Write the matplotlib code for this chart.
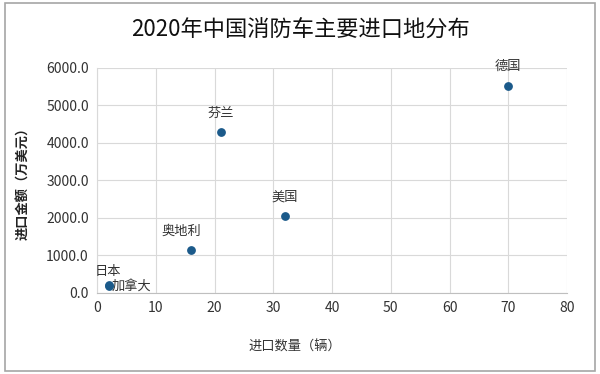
import matplotlib
matplotlib.use("Agg")
import matplotlib.pyplot as plt
from matplotlib.patches import Rectangle

plt.rcParams['font.family'] = ['Noto Sans CJK SC', 'DejaVu Sans']

# Data
countries = ["德国", "芬兰", "美国", "奥地利", "日本", "加拿大"]
quantity = [70, 21, 32, 16, 2, 2]
amount = [5530, 4290, 2050, 1150, 220, 190]

# label offsets in points (dx, dy) and alignment
offsets = {
    "德国": (0, 9, "center"),
    "芬兰": (0, 9, "center"),
    "美国": (0, 9, "center"),
    "奥地利": (-7, 9, "center"),
    "日本": (-1, 5, "center"),
    "加拿大": (2, 0, "left"),
}

fig = plt.figure(figsize=(6, 3.74), dpi=100)
ax = fig.add_axes([0.162, 0.2166, 0.783, 0.6016])

ax.scatter(quantity, amount, s=28, color="#1b5a8a", zorder=3)

for name, x, y in zip(countries, quantity, amount):
    dx, dy, ha = offsets[name]
    ax.annotate(name, (x, y), xytext=(dx, dy), textcoords="offset points",
                ha=ha, va="bottom" if dy > 0 else "center", fontsize=9.5, color="#333333")

ax.set_xlim(0, 80)
ax.set_ylim(0, 6000)
ax.set_xticks(range(0, 81, 10))
ax.set_yticks(range(0, 6001, 1000))
ax.set_yticklabels([f"{v:.1f}" for v in range(0, 6001, 1000)])
ax.grid(True, color="#d9d9d9", linewidth=0.8)
ax.set_axisbelow(True)
for side in ["top", "right"]:
    ax.spines[side].set_visible(False)
ax.spines["left"].set_color("#d9d9d9")
ax.spines["bottom"].set_color("#bfbfbf")
ax.tick_params(length=0, labelsize=10, labelcolor="#333333", pad=6)

ax.set_xlabel("进口数量（辆）", fontsize=9.5, color="#333333")
ax.xaxis.set_label_coords(0.42, -0.21)
ax.set_ylabel("进口金额（万美元）", fontsize=9.5, color="#222222", fontweight="bold")
ax.yaxis.set_label_coords(-0.143, 0.5)

fig.suptitle("2020年中国消防车主要进口地分布", fontsize=16, y=0.95, color="#111111")

fig.patches.append(Rectangle((0.008, 0.008), 0.984, 0.984, transform=fig.transFigure,
                             fill=False, edgecolor="#a6a6a6", linewidth=1.2))

fig.savefig("out.png", dpi=100)
